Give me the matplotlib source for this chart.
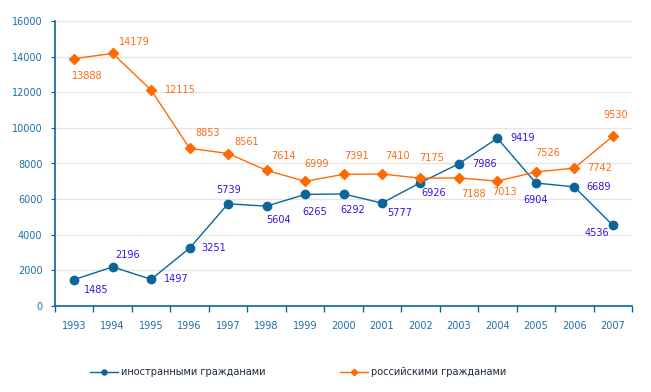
import matplotlib.pyplot as plt
import numpy as np

years = ['1993', '1994', '1995', '1996', '1997', '1998', '1999', '2000',
         '2001', '2002', '2003', '2004', '2005', '2006', '2007']
foreign = [1485, 2196, 1497, 3251, 5739, 5604, 6265, 6292,
           5777, 6926, 7986, 9419, 6904, 6689, 4536]
russian = [13888, 14179, 12115, 8853, 8561, 7614, 6999, 7391,
           7410, 7175, 7188, 7013, 7526, 7742, 9530]
names = ['иностранными гражданами', 'российскими гражданами']

# label offsets in pixels (dx, dy), dy upwards
foreign_off = [(10, -10), (3, 12), (13, 0), (12, 0), (-12, 14), (0, -14),
               (-3, -18), (-3, -16), (5, -10), (1, -10), (13, 0), (13, 0),
               (-12, -17), (12, 0), (-28, -8)]
russian_off = [(-2, -17), (6, 11), (14, 0), (6, 15), (6, 12), (5, 14),
               (-1, 17), (1, 18), (3, 18), (-1, 20), (2, -16), (-5, -11),
               (-1, 19), (13, 0), (-9, 21)]

axis_col = '#0B6399'
tick_col = '#1F6EA8'
blue = '#0A6598'
orange = '#FF6A00'

fig = plt.figure(figsize=(6.51, 3.92), dpi=100)
ax = fig.add_axes([55 / 651, 1 - 306 / 392, 577 / 651, 285 / 392])

x = np.arange(len(years))
ax.plot(x, foreign, color=blue, lw=1, marker='o', ms=6, label=names[0])
ax.plot(x, russian, color=orange, lw=1, marker='D', ms=5.5, label=names[1])

for xi, v, (dx, dy) in zip(x, foreign, foreign_off):
    ax.annotate(str(v), (xi, v), xytext=(dx, dy), textcoords='offset pixels',
                ha='left', va='center', fontsize=7, color='#3311EE')
for xi, v, (dx, dy) in zip(x, russian, russian_off):
    ax.annotate(str(v), (xi, v), xytext=(dx, dy), textcoords='offset pixels',
                ha='left', va='center', fontsize=7, color='#FF6A10')

ax.set_xlim(-0.5, len(years) - 0.5)
ax.set_ylim(0, 16000)
ax.set_yticks(np.arange(0, 16001, 2000))
ax.yaxis.grid(True, color='#E6E6E6', lw=1)
ax.set_axisbelow(True)

ax.set_xticks(x)
ax.set_xticklabels(years)
ax.set_xticks(np.arange(-0.5, len(years)), minor=True)
ax.tick_params(axis='x', which='major', length=0, pad=11, labelsize=7, labelcolor=tick_col)
ax.tick_params(axis='x', which='minor', length=4, color=axis_col, width=1)
ax.tick_params(axis='y', length=3, color=axis_col, labelsize=7, labelcolor=tick_col, pad=6)

for s in ['top', 'right']:
    ax.spines[s].set_visible(False)
ax.spines['left'].set_color(axis_col)
ax.spines['bottom'].set_color(axis_col)
ax.spines['left'].set_linewidth(1.2)
ax.spines['bottom'].set_linewidth(1.2)

leg = fig.legend(loc='center', bbox_to_anchor=(298 / 651, 1 - 372 / 392), ncol=2,
                 frameon=False, fontsize=7, markerscale=0.6, handlelength=2.9,
                 handletextpad=0.3, columnspacing=7.7)
for t in leg.get_texts():
    t.set_color('#1A2A3A')

fig.savefig('out.png', dpi=100)
